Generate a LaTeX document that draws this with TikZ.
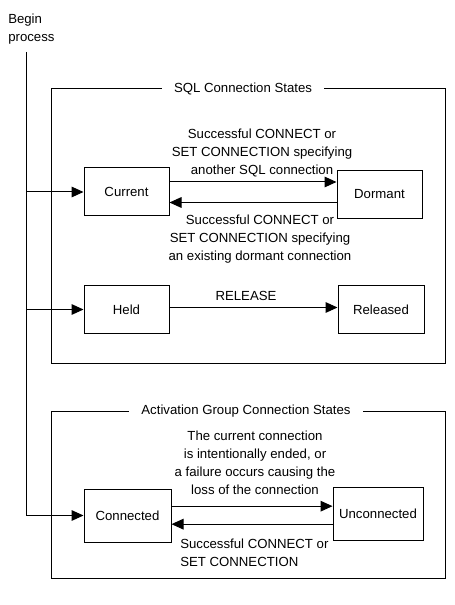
\documentclass[tikz,border=0pt]{standalone}
\usepackage{fontspec}
\setmainfont{Liberation Sans}
\usetikzlibrary{arrows.meta}
\begin{document}
\begin{tikzpicture}[x=0.75pt,y=-0.75pt,
  every node/.style={font=\fontsize{9.9pt}{13.4pt}\selectfont},
  line/.style={line width=0.75pt,black},
  arr/.style={line, -{Triangle[length=9pt,width=8pt]}},
  state/.style={draw,line width=0.75pt,minimum width=63.75pt,minimum height=36pt,inner sep=0pt},
  frametitle/.style={fill=white,inner xsep=9pt,inner ysep=1pt},
  lbl/.style={align=center,inner sep=0pt}]
\useasboundingbox (0,0) rectangle (454,605);

% begin text and start line
\node[align=left,anchor=north west,inner sep=0pt] (begin) at (8,14) {Begin\\process};
\coordinate (start) at (26,52);

% frames
\draw[line] (51,89) rectangle (445,363);
\node[frametitle] (sqltitle) at (243,89) {SQL Connection States};
\draw[line] (51,411) rectangle (445,578);
\node[frametitle] (acttitle) at (246,411) {Activation Group Connection States};

% states
\node[state] (cur) at (126.5,192) {Current};
\node[state] (dor) at (379.5,194.5) {Dormant};
\node[state] (held) at (126.5,309.5) {Held};
\node[state,minimum width=64.5pt] (rel) at (381,309.5) {Released};
\node[state,minimum width=65.25pt,minimum height=39.75pt] (con) at (127.5,515.5) {Connected};
\node[state,minimum width=67.5pt,minimum height=39.75pt] (uncon) at (378,513.5) {Unconnected};

% start line and branches
\draw[line] (start) -- (con.west -| start);
\draw[arr] (cur.west -| start) -- (cur.west);
\draw[arr] (held.west -| start) -- (held.west);
\draw[arr] (con.west -| start) -- (con.west);

% SQL transitions
\draw[arr] ([yshift=7.5pt]cur.east) -- ([yshift=7.5pt]cur.east -| dor.west);
\draw[arr] ([yshift=-6pt]dor.west) -- ([yshift=-6pt]dor.west -| cur.east);
\draw[arr] ([yshift=1.5pt]held.east) -- ([yshift=1.5pt]held.east -| rel.west);

% Activation transitions
\draw[arr] ([yshift=7pt]con.east) -- ([yshift=7pt]con.east -| uncon.west);
\draw[arr] ([yshift=-8pt]uncon.west) -- ([yshift=-8pt]uncon.west -| con.east);

% labels
\node[lbl] (l1) at (262,153) {Successful CONNECT or\\SET CONNECTION specifying\\another SQL connection};
\node[lbl] (l2) at (260,239) {Successful CONNECT or\\SET CONNECTION specifying\\an existing dormant connection};
\node[lbl] (l3) at (246,296) {RELEASE};
\node[lbl] (l4) at (255,463) {The current connection\\is intentionally ended, or\\a failure occurs causing the\\loss of the connection};
\node[lbl,align=left,anchor=west] (l5) at (180,553) {Successful CONNECT or\\SET CONNECTION};
\end{tikzpicture}
\end{document}
